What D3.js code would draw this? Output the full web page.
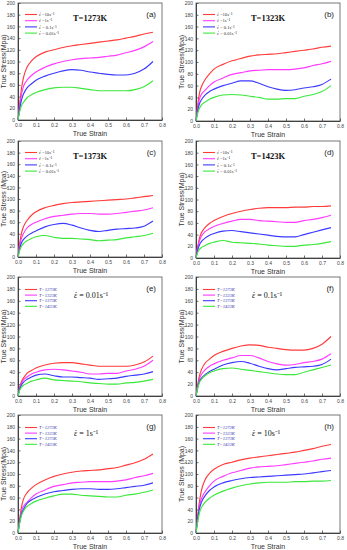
<!DOCTYPE html>
<html><head><meta charset="utf-8">
<script src="https://cdn.jsdelivr.net/npm/d3@7"></script>
<style>body{margin:0;background:#fff}svg{display:block}</style>
</head><body><svg id="c" width="347" height="550"></svg>
<script>
const strain = [0,0.01,0.02,0.03,0.05,0.075,0.1,0.15,0.2,0.25,0.3,0.35,0.4,0.45,0.5,0.55,0.6,0.65,0.7,0.75];

const t1273_r10  = [0,30,55,72,90,101,108,116,120,124,127,129,131,133,135,137,140,143,147,150];
const t1273_r1   = [0,25,45,57,68,76,82,90,96,100,103,105,106,107,109,111,115,119,125,134];
const t1273_r01  = [0,20,35,44,55,62,68,75,80,84,86,85,82,80,78,77,77,80,87,100];
const t1273_r001 = [0,15,25,30,38,43,47,52,55,56,56,54,52,50,50,50,50,52,57,67];

const t1323_r10  = [0,28,48,58,70,80,88,96,102,106,110,112,113,114,116,118,120,122,125,127];
const t1323_r1   = [0,22,38,45,52,60,66,73,79,82,85,86,87,87,87,88,90,94,97,101];
const t1323_r01  = [0,18,30,36,44,50,54,60,64,68,68,64,58,54,52,53,56,58,62,71];
const t1323_r001 = [0,14,22,27,32,37,40,44,45,44,42,40,37,37,38,38,42,45,50,60];

const t1373_r10  = [0,25,42,52,63,72,78,85,89,92,94,95,96,97,98,99,100,102,104,106];
const t1373_r1   = [0,20,33,40,50,56,60,66,70,72,74,75,75,74,74,75,77,79,81,85];
const t1373_r01  = [0,15,25,30,36,41,45,52,56,58,55,50,46,44,46,48,49,50,53,62];
const t1373_r001 = [0,12,19,23,28,32,35,37,34,32,32,31,30,28,29,30,33,35,37,41];

const t1423_r10  = [0,20,35,43,52,59,64,71,76,80,83,85,86,86,86,87,87,88,88,89];
const t1423_r1   = [0,18,30,37,45,50,54,59,63,66,66,64,63,62,61,61,64,66,69,73];
const t1423_r01  = [0,14,23,28,34,39,42,46,47,45,43,41,39,37,36,36,40,44,48,52];
const t1423_r001 = [0,10,15,18,21,25,27,30,27,26,25,24,22,21,20,20,22,23,25,28];

// legend / title texts (ε̇ prefix drawn separately)
const rateLegend = [" =10s⁻¹"," =1s⁻¹"," = 0.1s⁻¹"," = 0.01s⁻¹"];
const tempLegend = ["T=1273K","T=1323K","T=1373K","T=1423K"];
const tempTitles = ["T=1273K","T=1323K","T=1373K","T=1423K"];
const rateTitles = [" = 0.01s⁻¹"," = 0.1s⁻¹"," = 1s⁻¹"," = 10s⁻¹"];
const panelLetters = ["(a)","(b)","(c)","(d)","(e)","(f)","(g)","(h)"];
const xTicks = [0,0.1,0.2,0.3,0.4,0.5,0.6,0.7,0.8];
const yTicks = [0,20,40,60,80,100,120,140,160,180,200];
const yLabels = ["True Stress(Mpa)","True Stress(Mpa)","True Stress (Mpa)","True Stress(Mpa)","True Stress(Mpa)","True Stress(Mpa)","True Stress(Mpa)","True Stress (Mpa)"];

const colors = ["#ff3b3b","#ff3bff","#3b3bff","#3be83b"];

const panelSeries = [
  [t1273_r10,t1273_r1,t1273_r01,t1273_r001],
  [t1323_r10,t1323_r1,t1323_r01,t1323_r001],
  [t1373_r10,t1373_r1,t1373_r01,t1373_r001],
  [t1423_r10,t1423_r1,t1423_r01,t1423_r001],
  [t1273_r001,t1323_r001,t1373_r001,t1423_r001],
  [t1273_r01,t1323_r01,t1373_r01,t1423_r01],
  [t1273_r1,t1323_r1,t1373_r1,t1423_r1],
  [t1273_r10,t1323_r10,t1373_r10,t1423_r10]
];

const boxes = [
  {x0:18,x1:162,y0:3,y1:120},
  {x0:196,x1:340,y0:3,y1:121},
  {x0:18,x1:162,y0:141,y1:257},
  {x0:196,x1:340,y0:141,y1:258},
  {x0:18,x1:162,y0:277,y1:396},
  {x0:196,x1:340,y0:277,y1:396},
  {x0:18,x1:162,y0:415,y1:533},
  {x0:196,x1:340,y0:415,y1:533}
];

const svg = d3.select("#c");
const SERIF = "Liberation Serif, Times New Roman, serif";

function epsText(g, x, y, size, rest, color){
  const t = g.append("text").attr("x",x).attr("y",y)
    .style("font-family",SERIF).style("font-size",size+"px").attr("fill",color);
  t.append("tspan").style("font-style","italic").text("ε");
  t.append("tspan").text(rest);
  const node = t.node();
  let cx = x + size*0.25;
  try { const a=node.getStartPositionOfChar(0), b=node.getEndPositionOfChar(0); cx=(a.x+b.x)/2+size*0.06; } catch(e){}
  g.append("circle").attr("cx",cx).attr("cy",y-size*0.68).attr("r",Math.max(0.35,size*0.065)).attr("fill",color);
}

boxes.forEach((b,i)=>{
  const g = svg.append("g");
  const x = d3.scaleLinear().domain([0,0.8]).range([b.x0,b.x1]);
  const y = d3.scaleLinear().domain([0,200]).range([b.y1,b.y0]);

  g.append("rect").attr("x",b.x0).attr("y",b.y0).attr("width",b.x1-b.x0).attr("height",b.y1-b.y0)
    .attr("fill","none").attr("stroke","#555").attr("stroke-width",0.8);

  const xa = d3.axisBottom(x).tickValues(xTicks).tickFormat(d3.format(".1f")).tickSizeInner(-2.5).tickSizeOuter(0).tickPadding(3.5);
  const ya = d3.axisLeft(y).tickValues(yTicks).tickFormat(d3.format("d")).tickSizeInner(-2.5).tickSizeOuter(0).tickPadding(3);
  const gx = g.append("g").attr("transform",`translate(0,${b.y1})`).call(xa);
  const gy = g.append("g").attr("transform",`translate(${b.x0},0)`).call(ya);
  [gx,gy].forEach(a=>{
    a.select(".domain").attr("stroke","#333").attr("stroke-width",0.9);
    a.selectAll(".tick line").attr("stroke","#333").attr("stroke-width",0.7);
    a.selectAll(".tick text").attr("fill","#444").style("font-family","Liberation Sans, Arial").style("font-size","5px");
  });

  g.append("text").attr("x",(b.x0+b.x1)/2).attr("y",b.y1+15.5).attr("text-anchor","middle")
    .style("font-family","Liberation Sans, Arial").style("font-size","7px").attr("fill","#333").text("True Strain");
  g.append("text").attr("transform",`translate(${b.x0-12},${(b.y0+b.y1)/2}) rotate(-90)`).attr("text-anchor","middle")
    .style("font-family","Liberation Sans, Arial").style("font-size","7px").attr("fill","#333").text(yLabels[i]);

  const line = d3.line().x((d,k)=>x(strain[k])).y(d=>y(d)).curve(d3.curveMonotoneX);
  panelSeries[i].forEach((s,k)=>{
    g.append("path").datum(s).attr("d",line).attr("fill","none").attr("stroke",colors[k]).attr("stroke-width",1.15);
  });

  const top = i<4;
  const lx = b.x0+7, ly = b.y0+(top?11.5:12.5), dy = top?6.2:5.6;
  (top?rateLegend:tempLegend).forEach((t,k)=>{
    g.append("line").attr("x1",lx).attr("x2",lx+12).attr("y1",ly+k*dy).attr("y2",ly+k*dy)
      .attr("stroke",colors[k]).attr("stroke-width",1.1);
    if(top){
      epsText(g, lx+14, ly+k*dy+1.6, 4.6, t, "#333");
    } else {
      g.append("text").attr("x",lx+14).attr("y",ly+k*dy+1.6)
        .style("font-family",SERIF).style("font-style","italic").style("font-size","4.6px")
        .attr("fill","#3a3ab0").text(t);
    }
  });

  if(top){
    g.append("text").attr("x",b.x0+72).attr("y",b.y0+17.5).attr("text-anchor","middle")
      .style("font-family",SERIF).style("font-weight","bold").style("font-size","8.5px")
      .attr("fill","#111").text(tempTitles[i]);
  } else {
    epsText(g, b.x0+56, b.y0+21, 8, rateTitles[i-4], "#111");
  }
  g.append("text").attr("x",b.x1-6).attr("y",b.y0+13.5).attr("text-anchor","end")
    .style("font-family","Liberation Sans, Arial").style("font-size","8px").attr("fill","#222").text(panelLetters[i]);
});
</script></body></html>
